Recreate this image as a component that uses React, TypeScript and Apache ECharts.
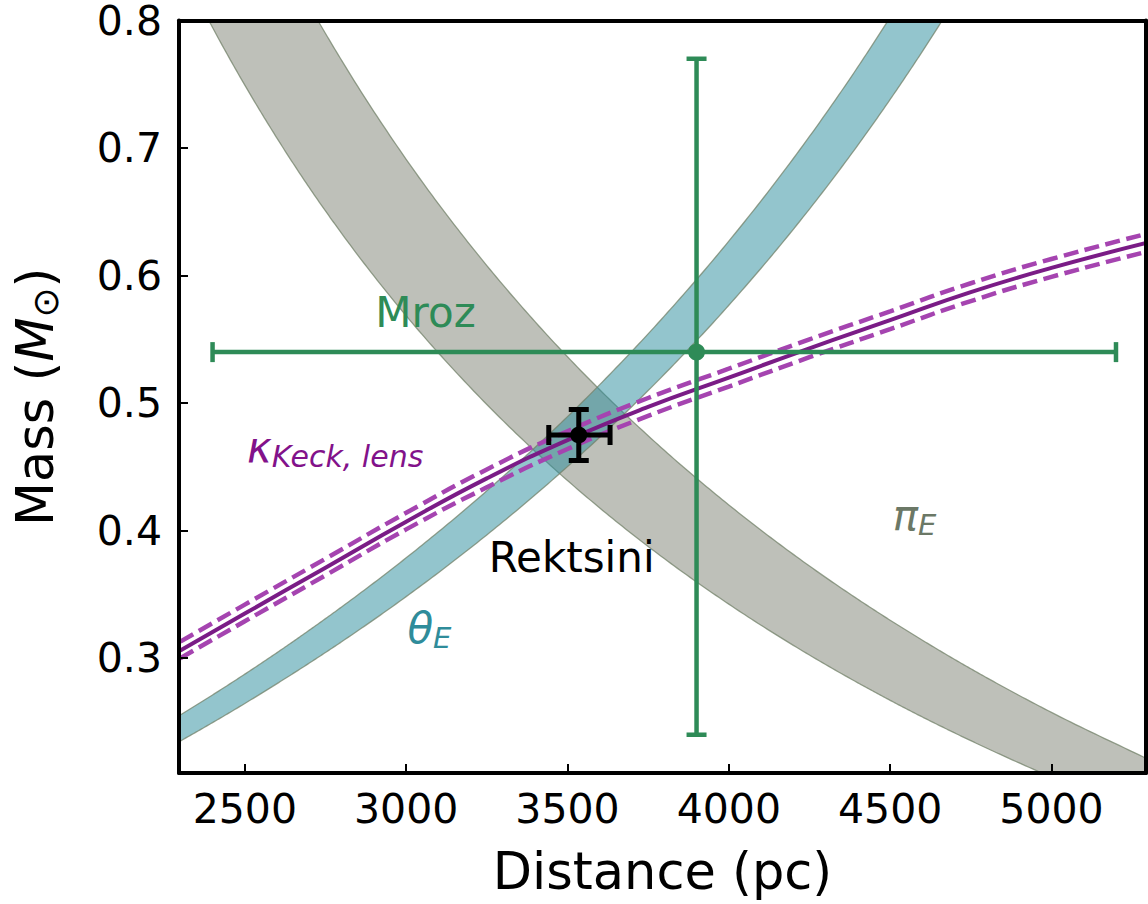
import React, { useEffect, useRef } from "react";
import * as echarts from "echarts";

const FONT = "'DejaVu Sans', sans-serif";

// Axis ranges and ticks
const xRange = [2296, 5293];
const yRange = [0.21, 0.8];
const xTickValues = [2500, 3000, 3500, 4000, 4500, 5000];
const yTickValues = [0.3, 0.4, 0.5, 0.6, 0.7, 0.8];

// pi_E (grey) and theta_E (teal) constraint bands
const bandDistance = [2300, 2400, 2500, 2600, 2700, 2800, 3000, 3200, 3400, 3600, 3800, 4000, 4200, 4400, 4500, 4600, 4700, 4800, 5000, 5300];
const piELower = [0.8437, 0.7945, 0.7493, 0.7076, 0.6689, 0.6331, 0.5685, 0.5120, 0.4621, 0.4178, 0.3781, 0.3424, 0.3101, 0.2807, 0.2670, 0.2539, 0.2414, 0.2294, 0.2068, 0.1761];
const piEUpper = [1.0213, 0.9623, 0.9081, 0.8581, 0.8117, 0.7687, 0.6912, 0.6235, 0.5637, 0.5105, 0.4630, 0.4202, 0.3814, 0.3462, 0.3298, 0.3141, 0.2990, 0.2846, 0.2575, 0.2207];
const thetaELower = [0.2350, 0.2495, 0.2645, 0.2801, 0.2962, 0.3129, 0.3483, 0.3866, 0.4281, 0.4733, 0.5226, 0.5767, 0.6363, 0.7023, 0.7381, 0.7758, 0.8157, 0.8581, 0.9508, 1.1145];
const thetaEUpper = [0.2555, 0.2712, 0.2875, 0.3044, 0.3220, 0.3402, 0.3787, 0.4203, 0.4654, 0.5145, 0.5682, 0.6270, 0.6918, 0.7636, 0.8025, 0.8435, 0.8869, 0.9330, 1.0339, 1.2119];

// Keck K-band lens flux constraint
const kappaDistance = [2300, 2500, 2750, 3000, 3250, 3500, 3750, 4000, 4250, 4500, 4750, 5000, 5300];
const kappaMid = [0.306, 0.335, 0.371, 0.407, 0.441, 0.471, 0.497, 0.520, 0.543, 0.565, 0.587, 0.606, 0.626];
const kappaHigh = [0.313, 0.342, 0.378, 0.414, 0.448, 0.478, 0.504, 0.527, 0.550, 0.572, 0.594, 0.613, 0.633];
const kappaLow = [0.300, 0.329, 0.365, 0.401, 0.434, 0.464, 0.490, 0.513, 0.536, 0.558, 0.580, 0.599, 0.619];

// Points with error bars: [distance, mass, distLow, distHigh, massLow, massHigh]
const mrozPoint = [3900, 0.54, 2400, 5200, 0.24, 0.77];
const rektsiniPoint = [3535, 0.475, 3442, 3632, 0.455, 0.495];

// Annotations
const annotationNames = ["Mroz", "Rektsini", "kappa", "theta", "pi"];
const annotationDistance = [3060, 3513, 2780, 3072, 4576];
const annotationMass = [0.571, 0.379, 0.465, 0.323, 0.412];

const GREEN = "#2e8b57";
const PURPLE = "#7a1c86";
const PURPLE_DASH = "#a544b0";
const GREY_FILL = "rgba(125,130,115,0.5)";
const TEAL_FILL = "rgba(40,140,155,0.5)";
const EDGE = "rgba(115,130,105,0.75)";

// Monotone cubic (Fritsch-Carlson) resampling used only for drawing smooth band edges
function smoothEdge(xs: number[], ys: number[], steps = 20): number[][] {
  const n = xs.length;
  const d: number[] = [];
  for (let i = 0; i < n - 1; i++) d.push((ys[i + 1] - ys[i]) / (xs[i + 1] - xs[i]));
  const m: number[] = new Array(n);
  m[0] = d[0];
  m[n - 1] = d[n - 2];
  for (let i = 1; i < n - 1; i++) {
    if (d[i - 1] * d[i] <= 0) m[i] = 0;
    else {
      const h0 = xs[i] - xs[i - 1];
      const h1 = xs[i + 1] - xs[i];
      m[i] = (d[i - 1] * h1 + d[i] * h0) / (h0 + h1);
    }
  }
  for (let i = 0; i < n - 1; i++) {
    if (d[i] === 0) {
      m[i] = 0;
      m[i + 1] = 0;
      continue;
    }
    const a = m[i] / d[i];
    const b = m[i + 1] / d[i];
    const s = a * a + b * b;
    if (s > 9) {
      const tau = 3 / Math.sqrt(s);
      m[i] = tau * a * d[i];
      m[i + 1] = tau * b * d[i];
    }
  }
  const out: number[][] = [];
  for (let i = 0; i < n - 1; i++) {
    const h = xs[i + 1] - xs[i];
    for (let k = 0; k < steps; k++) {
      const t = k / steps;
      const t2 = t * t;
      const t3 = t2 * t;
      const h00 = 2 * t3 - 3 * t2 + 1;
      const h10 = t3 - 2 * t2 + t;
      const h01 = -2 * t3 + 3 * t2;
      const h11 = t3 - t2;
      out.push([xs[i] + t * h, h00 * ys[i] + h10 * h * m[i] + h01 * ys[i + 1] + h11 * h * m[i + 1]]);
    }
  }
  out.push([xs[n - 1], ys[n - 1]]);
  return out;
}

function bandSeries(lower: number[], upper: number[], fill: string, z: number) {
  return {
    type: "custom",
    z,
    silent: true,
    clip: true,
    data: [[bandDistance[0], lower[0]]],
    renderItem: (_params: any, api: any) => {
      const lo = smoothEdge(bandDistance, lower).map((p) => api.coord(p));
      const hi = smoothEdge(bandDistance, upper).map((p) => api.coord(p));
      const edgeStyle = { stroke: EDGE, lineWidth: 1.3, fill: "none" };
      return {
        type: "group",
        children: [
          {
            type: "polygon",
            shape: { points: hi.concat(lo.slice().reverse()) },
            style: { fill, stroke: "none" },
          },
          { type: "polyline", shape: { points: hi }, style: edgeStyle },
          { type: "polyline", shape: { points: lo }, style: edgeStyle },
        ],
      };
    },
  };
}

function errorBarSeries(point: number[], color: string, lineWidth: number, capHalf: number, z: number) {
  return {
    type: "custom",
    z,
    silent: true,
    data: [point],
    encode: { x: [0, 2, 3], y: [1, 4, 5] },
    renderItem: (_params: any, api: any) => {
      const x = api.value(0);
      const y = api.value(1);
      const l = api.coord([api.value(2), y]);
      const r = api.coord([api.value(3), y]);
      const b = api.coord([x, api.value(4)]);
      const t = api.coord([x, api.value(5)]);
      const style = { stroke: color, lineWidth, fill: "none" };
      const seg = (x1: number, y1: number, x2: number, y2: number) => ({
        type: "line",
        shape: { x1, y1, x2, y2 },
        style,
      });
      return {
        type: "group",
        children: [
          seg(l[0], l[1], r[0], r[1]),
          seg(b[0], b[1], t[0], t[1]),
          seg(l[0], l[1] - capHalf, l[0], l[1] + capHalf),
          seg(r[0], r[1] - capHalf, r[0], r[1] + capHalf),
          seg(b[0] - capHalf, b[1], b[0] + capHalf, b[1]),
          seg(t[0] - capHalf, t[1], t[0] + capHalf, t[1]),
        ],
      };
    },
  };
}

function pairs(xs: number[], ys: number[]) {
  return xs.map((x, i) => [x, ys[i]]);
}

function buildOption() {
  const axisLineStyle = { color: "#000", width: 4 };
  const subRich = (color: string, main: number, sub: number, subLH: number) => ({
    k: { fontFamily: FONT, fontStyle: "italic", fontSize: main, lineHeight: 48, color, opacity: 1 },
    s: { fontFamily: FONT, fontStyle: "italic", fontSize: sub, lineHeight: subLH, verticalAlign: "bottom", color, opacity: 1 },
    a: { fontFamily: FONT, fontSize: main, lineHeight: 48, color, opacity: 1 },
  });
  const formatters: Record<string, string> = {
    Mroz: "{a|Mroz}",
    Rektsini: "{a|Rektsini}",
    kappa: "{k|κ}{s|Keck, lens}",
    theta: "{k|θ}{s|E}",
    pi: "{k|π}{s|E}",
  };
  const colors: Record<string, string> = {
    Mroz: GREEN,
    Rektsini: "#000",
    kappa: "#82128a",
    theta: "#2f8c9a",
    pi: "#6b7866",
  };
  const subSizes: Record<string, number> = { Mroz: 29, Rektsini: 29, kappa: 30, theta: 29, pi: 29 };
  const annotationData = annotationNames.map((n, i) => ({
    value: [annotationDistance[i], annotationMass[i]],
    label: {
      show: true,
      position: "inside",
      formatter: formatters[n],
      opacity: 1,
      rich: subRich(colors[n], 42, subSizes[n], 23),
    },
  }));

  return {
    animation: false,
    backgroundColor: "#fff",
    grid: { left: 179, top: 20, right: 2, bottom: 130, containLabel: false },
    xAxis: [
      {
        type: "value",
        position: "bottom",
        min: xRange[0],
        max: xRange[1],
        z: 10,
        axisLine: { show: true, onZero: false, lineStyle: axisLineStyle },
        axisTick: { show: true, inside: true, length: 9, lineStyle: { color: "#000", width: 2 }, customValues: xTickValues },
        axisLabel: {
          show: true,
          customValues: xTickValues,
          margin: 15,
          fontSize: 41,
          lineHeight: 41,
          fontFamily: FONT,
          color: "#000",
          formatter: (v: number) => String(Math.round(v)),
        },
        splitLine: { show: false },
        name: "Distance (pc)",
        nameLocation: "middle",
        nameGap: 70,
        nameTextStyle: { fontSize: 51, lineHeight: 56, fontFamily: FONT, color: "#000" },
      },
      {
        type: "value",
        position: "top",
        min: xRange[0],
        max: xRange[1],
        z: 10,
        axisLine: { show: true, onZero: false, lineStyle: axisLineStyle },
        axisTick: { show: false },
        axisLabel: { show: false },
        splitLine: { show: false },
      },
    ],
    yAxis: [
      {
        type: "value",
        position: "left",
        min: yRange[0],
        max: yRange[1],
        z: 10,
        axisLine: { show: true, onZero: false, lineStyle: axisLineStyle },
        axisTick: { show: true, inside: true, length: 9, lineStyle: { color: "#000", width: 2 }, customValues: yTickValues },
        axisLabel: {
          show: true,
          customValues: yTickValues,
          margin: 17,
          fontSize: 41,
          lineHeight: 32,
          fontFamily: FONT,
          color: "#000",
          formatter: (v: number) => v.toFixed(1),
        },
        splitLine: { show: false },
        name: "{n|Mass (}{i|M}{s|⊙}{n|)}",
        nameLocation: "middle",
        nameRotate: 90,
        nameGap: 116,
        nameTextStyle: {
          rich: {
            n: { fontFamily: FONT, fontSize: 51, lineHeight: 56, color: "#000" },
            i: { fontFamily: FONT, fontSize: 51, lineHeight: 56, fontStyle: "italic", color: "#000" },
            s: { fontFamily: FONT, fontSize: 36, lineHeight: 26, verticalAlign: "bottom", color: "#000" },
          },
        },
      },
      {
        type: "value",
        position: "right",
        min: yRange[0],
        max: yRange[1],
        z: 10,
        axisLine: { show: true, onZero: false, lineStyle: axisLineStyle },
        axisTick: { show: false },
        axisLabel: { show: false },
        splitLine: { show: false },
      },
    ],
    series: [
      bandSeries(piELower, piEUpper, GREY_FILL, 1),
      bandSeries(thetaELower, thetaEUpper, TEAL_FILL, 2),
      {
        type: "line",
        name: "kappa-high",
        smooth: true,
        symbol: "none",
        silent: true,
        z: 3,
        data: pairs(kappaDistance, kappaHigh),
        lineStyle: { color: PURPLE_DASH, width: 4.5, type: [15, 6.5] },
      },
      {
        type: "line",
        name: "kappa-low",
        smooth: true,
        symbol: "none",
        silent: true,
        z: 3,
        data: pairs(kappaDistance, kappaLow),
        lineStyle: { color: PURPLE_DASH, width: 4.5, type: [15, 6.5] },
      },
      {
        type: "line",
        name: "kappa",
        smooth: true,
        symbol: "none",
        silent: true,
        z: 3,
        data: pairs(kappaDistance, kappaMid),
        lineStyle: { color: PURPLE, width: 4 },
      },
      errorBarSeries(mrozPoint, GREEN, 4.5, 10, 4),
      {
        type: "scatter",
        z: 5,
        silent: true,
        symbol: "circle",
        symbolSize: 17,
        itemStyle: { color: GREEN, opacity: 1 },
        data: [[mrozPoint[0], mrozPoint[1]]],
      },
      errorBarSeries(rektsiniPoint, "#000", 5, 10, 6),
      {
        type: "scatter",
        z: 7,
        silent: true,
        symbol: "circle",
        symbolSize: 17,
        itemStyle: { color: "#000", opacity: 1 },
        data: [[rektsiniPoint[0], rektsiniPoint[1]]],
      },
      {
        type: "scatter",
        z: 8,
        silent: true,
        symbolSize: 0,
        itemStyle: { opacity: 1 },
        data: annotationData,
      },
    ],
  };
}

export default function App() {
  const ref = useRef<HTMLDivElement>(null);
  useEffect(() => {
    if (!ref.current) return;
    const chart = echarts.init(ref.current, null, { renderer: "svg" });
    chart.setOption(buildOption() as any);
    return () => chart.dispose();
  }, []);
  return (
    <div
      ref={ref}
      style={{ position: "fixed", left: 0, top: 0, width: 1148, height: 904, background: "#fff" }}
    />
  );
}
